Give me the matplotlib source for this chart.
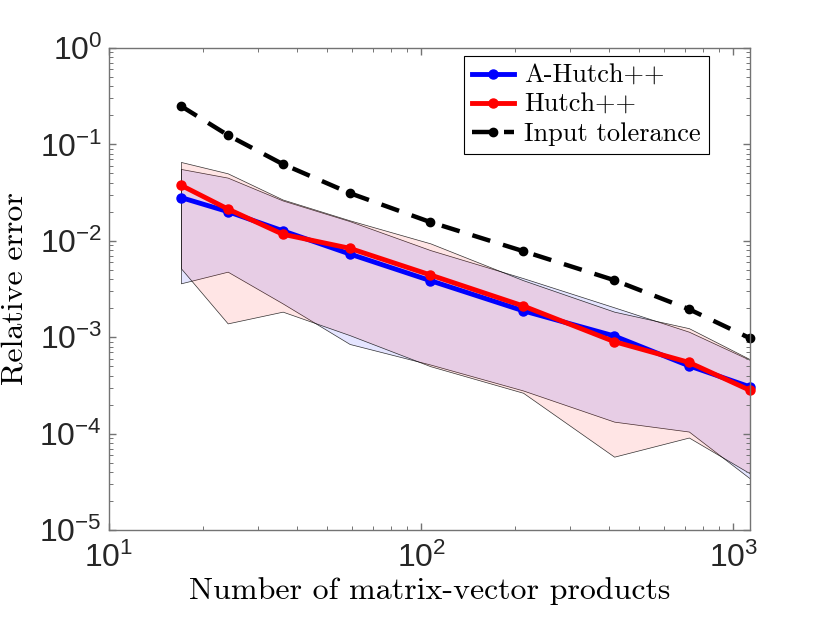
import matplotlib
matplotlib.use("Agg")
from matplotlib import pyplot as plt

plt.rcParams['font.family'] = ['Liberation Sans', 'DejaVu Sans']
plt.rcParams['mathtext.fontset'] = 'custom'
plt.rcParams['mathtext.rm'] = 'Liberation Sans'
plt.rcParams['mathtext.it'] = 'Liberation Sans:italic'
plt.rcParams['axes.unicode_minus'] = False

#
# - data
#

matvecs = [17, 24, 36, 59, 107, 212, 415, 720, 1130]

ahutch_med = [0.0281, 0.0201, 0.0127, 0.0073, 0.00386, 0.00188, 0.00103, 0.000505, 0.000305]
ahutch_lo = [0.00362, 0.00478, 0.00224, 0.00085, 0.00052, 0.00028, 0.000133, 0.000105, 3.42e-5]
ahutch_hi = [0.0556, 0.0452, 0.0262, 0.0160, 0.0080, 0.0041, 0.00204, 0.00114, 0.00058]

hutch_med = [0.0377, 0.0214, 0.0117, 0.00836, 0.00442, 0.00211, 0.00090, 0.000548, 0.000281]
hutch_lo = [0.00518, 0.00139, 0.00184, 0.00105, 0.00050, 0.000265, 5.76e-5, 9.1e-5, 3.86e-5]
hutch_hi = [0.0657, 0.0501, 0.0268, 0.0163, 0.0094, 0.0039, 0.00184, 0.00124, 0.00059]

tolerance = [0.25, 0.125, 0.0625, 0.03125, 0.015625, 0.0078125, 0.00390625, 0.001953125, 0.0009765625]

#
# plot
#

fig = plt.figure(figsize=(8.3, 6.23), dpi=100)
ax = fig.add_axes([0.1313, 0.1493, 0.7723, 0.7737])

edge = (0, 0, 0, 0.8)
ax.fill_between(matvecs, ahutch_lo, ahutch_hi, facecolor=(0, 0, 1, 0.1), edgecolor=edge, linewidth=0.5)
ax.fill_between(matvecs, hutch_lo, hutch_hi, facecolor=(1, 0, 0, 0.1), edgecolor=edge, linewidth=0.5)

# markers at the last point sit on the right spine, so don't clip them
ax.plot(matvecs, ahutch_med, '-o', color='b', lw=3.5, ms=6.5, label='A-Hutch++', clip_on=False)
ax.plot(matvecs, hutch_med, '-o', color='r', lw=3.5, ms=6.5, label='Hutch++', clip_on=False)
ax.plot(matvecs, tolerance, '--o', color='k', lw=3.2, ms=6, dashes=(4.2, 3),
        label='Input tolerance', clip_on=False)

ax.set_xscale('log')
ax.set_yscale('log')
ax.set_xlim(10, matvecs[-1])
ax.set_ylim(1e-5, 1)

grey = (0.45, 0.45, 0.45)
for s in ax.spines.values():
    s.set_color(grey)
    s.set_linewidth(1.0)
ax.tick_params(which='both', direction='in', top=True, right=True, color=grey,
               labelcolor=(0.15, 0.15, 0.15), labelsize=23)
ax.tick_params(which='major', length=5, width=1)
ax.tick_params(which='minor', length=3, width=0.7)
ax.tick_params(axis='x', which='major', pad=9)
ax.tick_params(axis='y', which='major', pad=5)

ax.set_xlabel('Number of matrix-vector products', family='cmr10', fontsize=23, labelpad=2)
ax.set_ylabel('Relative error', family='cmr10', fontsize=23, labelpad=8)

leg = ax.legend(loc='upper right', bbox_to_anchor=(0.936, 0.983), borderaxespad=0,
                prop={'family': 'cmr10', 'size': 19}, fancybox=False,
                framealpha=1, edgecolor='k', handlelength=1.6, borderpad=0.3,
                labelspacing=0.2, handletextpad=0.4)
leg.get_frame().set_linewidth(0.8)

fig.savefig('out.png', dpi=100)
